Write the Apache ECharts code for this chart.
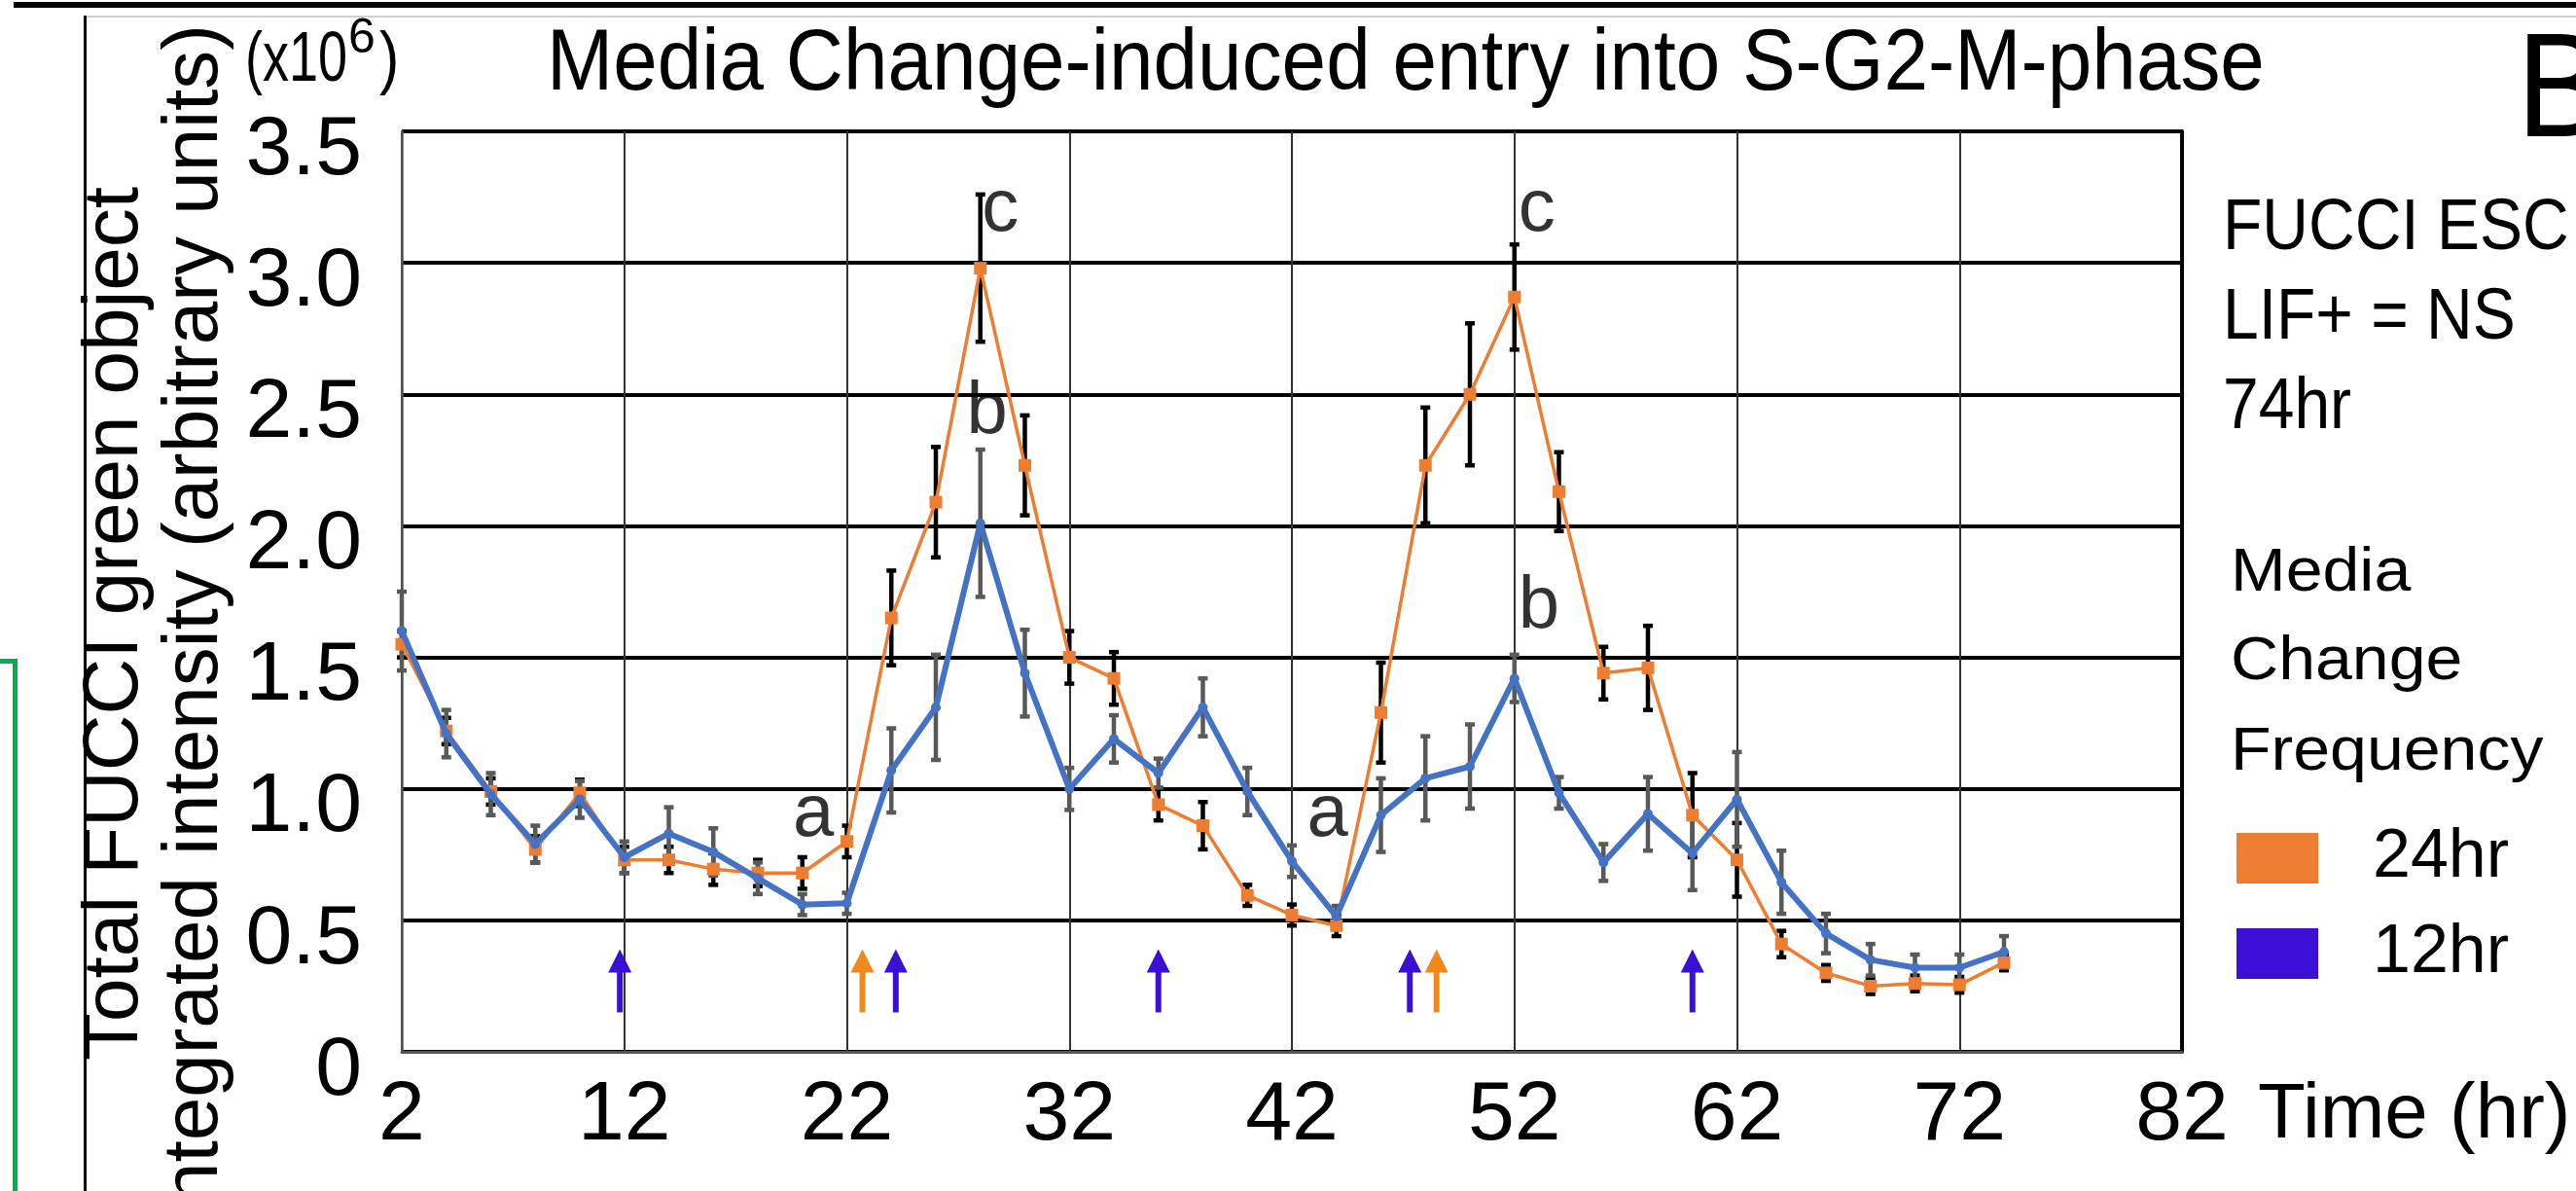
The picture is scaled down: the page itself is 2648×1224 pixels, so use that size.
<!DOCTYPE html>
<html>
<head>
<meta charset="utf-8">
<script src="https://cdn.jsdelivr.net/npm/echarts@6/dist/echarts.min.js"></script>
<style>
html,body{margin:0;padding:0;background:#fff;}
#chart{width:2648px;height:1224px;}
</style>
</head>
<body>
<div id="chart"></div>
<script>
// ---------------- data ----------------
const hours = [2,4,6,8,10,12,14,16,18,20,22,24,26,28,30,32,34,36,38,40,42,44,46,48,50,52,54,56,58,60,62,64,66,68,70,72,74];
const media24 = [1.55,1.22,0.99,0.77,0.985,0.73,0.73,0.695,0.68,0.68,0.80,1.65,2.09,2.98,2.23,1.50,1.42,0.94,0.86,0.595,0.52,0.48,1.29,2.23,2.50,2.87,2.13,1.44,1.46,0.90,0.73,0.41,0.30,0.25,0.26,0.255,0.34];
const media24Err = [0.05,0.05,0.05,0.05,0.05,0.05,0.05,0.06,0.05,0.06,0.06,0.18,0.21,0.28,0.19,0.10,0.10,0.06,0.09,0.04,0.04,0.04,0.19,0.22,0.27,0.20,0.15,0.10,0.16,0.16,0.14,0.05,0.03,0.03,0.03,0.03,0.03];
const media12 = [1.60,1.21,0.98,0.79,0.96,0.74,0.83,0.76,0.66,0.56,0.565,1.07,1.31,2.01,1.44,1.00,1.19,1.06,1.31,0.99,0.725,0.515,0.90,1.04,1.085,1.42,0.985,0.72,0.905,0.755,0.96,0.645,0.45,0.35,0.32,0.32,0.38];
const media12Err = [0.15,0.09,0.08,0.07,0.07,0.06,0.10,0.09,0.06,0.04,0.04,0.16,0.20,0.28,0.165,0.08,0.09,0.055,0.11,0.09,0.06,0.04,0.14,0.16,0.16,0.09,0.06,0.07,0.14,0.14,0.18,0.12,0.075,0.06,0.05,0.05,0.06];
// media change arrows (time positions) and their vertical extent
const arrows12 = [11.8,24.2,36,47.3,60];
const arrows24 = [22.7,48.5];
const arrowSpan = [0.15,0.39];
// significance letters
const letterText = ['a','c','b','a','c','b'];
const letterX = [20.5,28.9,28.3,43.6,53.0,53.1];
const letterY = [0.90,3.20,2.43,0.90,3.20,1.69];
// axis settings
const xMin = 2, xMax = 82, xStep = 10;
const yMin = 0, yMax = 3.5, yStep = 0.5;
const titleText = 'Media Change-induced entry into S-G2-M-phase';
const yName = 'Total FUCCI green object\nintegrated intensity (arbitrary units)';
const sideNotes = ['FUCCI ESC','LIF+ = NS','74hr'];
const legendTitle = ['Media','Change','Frequency'];
const legendNames = ['24hr','12hr'];

const F = '"Liberation Sans", Arial, sans-serif';
const C_OR = '#ed7d31', C_BL = '#4472c4', C_LEG_BL = '#3a10d6', C_ARR_OR = '#f08a1c';

function errRender(color){
  return function(params, api){
    const x = api.value(0), v = api.value(1), e = api.value(2);
    const t = api.coord([x, v + e]), b = api.coord([x, v - e]);
    const cap = 5;
    const st = {stroke: color, lineWidth: 4.5};
    return {type:'group', children:[
      {type:'line', shape:{x1:t[0], y1:t[1], x2:b[0], y2:b[1]}, style:st},
      {type:'line', shape:{x1:t[0]-cap, y1:t[1], x2:t[0]+cap, y2:t[1]}, style:st},
      {type:'line', shape:{x1:b[0]-cap, y1:b[1], x2:b[0]+cap, y2:b[1]}, style:st}
    ]};
  };
}
function arrowRender(color){
  return function(params, api){
    const x = api.value(0);
    const lo = api.coord([x, api.value(1)]), hi = api.coord([x, api.value(2)]);
    const hw = 12, hh = 24, sw = 3;
    return {type:'group', children:[
      {type:'rect', shape:{x: lo[0]-sw, y: hi[1]+hh-2, width: sw*2, height: lo[1]-hi[1]-hh+2}, style:{fill: color}},
      {type:'polygon', shape:{points:[[hi[0], hi[1]], [hi[0]-hw, hi[1]+hh], [hi[0]+hw, hi[1]+hh]]}, style:{fill: color}}
    ]};
  };
}
function txt(text, x, y, size, sx, align){
  return {type:'text', x:x, y:y, scaleX:sx, z:10,
    style:{text:text, fontFamily:F, fontSize:size, fill:'#000', align:align || 'left', verticalAlign:'middle'}};
}

const chart = echarts.init(document.getElementById('chart'), null, {renderer:'canvas'});
const option = {
  backgroundColor: '#fff',
  animation: false,
  grid: {left: 413, right: 405, top: 135, bottom: 143, outerBoundsMode: 'none', containLabel: false},
  legend: {
    orient: 'vertical', left: 2294, top: 842,
    itemWidth: 84, itemHeight: 52, itemGap: 28, icon: 'rect', selectedMode: false,
    textStyle: {fontFamily: F, fontSize: 70, color: '#000', lineHeight: 52, padding: [0,0,0,51]},
    data: [
      {name: legendNames[0], itemStyle: {color: C_OR}},
      {name: legendNames[1], itemStyle: {color: C_LEG_BL}}
    ]
  },
  xAxis: {
    type: 'value', min: xMin, max: xMax, interval: xStep,
    name: 'Time (hr)', nameLocation: 'end', nameGap: 78,
    nameTextStyle: {fontFamily: F, fontSize: 80, color: '#000', align: 'left', verticalAlign: 'top', padding: [26,0,0,0]},
    axisLine: {show: true, lineStyle: {color: '#555', width: 3}},
    axisTick: {show: false},
    axisLabel: {fontFamily: F, fontSize: 86, color: '#000', margin: 23},
    splitLine: {show: true, lineStyle: {color: '#333', width: 2}}
  },
  yAxis: [{
    type: 'value', min: yMin, max: yMax, interval: yStep,
    name: yName,
    nameLocation: 'middle', nameRotate: 90, nameGap: 130,
    nameTextStyle: {fontFamily: F, fontSize: 80, color: '#000', lineHeight: 82, padding: [0,66,0,0]},
    axisLine: {show: true, lineStyle: {color: '#555', width: 2.5}},
    axisTick: {show: false},
    axisLabel: {
      fontFamily: F, fontSize: 86, color: '#000', margin: 41, verticalAlign: 'top', lineHeight: 40,
      formatter: v => v === 0 ? '0' : v.toFixed(1)
    },
    splitLine: {show: true, lineStyle: {color: '#000', width: 4}}
  }, {
    type: 'value', min: yMin, max: yMax, interval: yStep, position: 'right',
    axisLine: {show: true, lineStyle: {color: '#000', width: 4}},
    axisTick: {show: false}, axisLabel: {show: false}, splitLine: {show: false}
  }],
  graphic: [
    {type:'rect', shape:{x:14, y:2, width:2634, height:6}, style:{fill:'#000'}},
    {type:'rect', shape:{x:88, y:16, width:2560, height:2}, style:{fill:'#d0d0d0'}},
    {type:'rect', shape:{x:86, y:16, width:3, height:1208}, style:{fill:'#000'}},
    {type:'rect', shape:{x:13, y:679, width:5, height:545}, style:{fill:'#00b050'}},
    {type:'rect', shape:{x:0, y:677, width:18, height:5}, style:{fill:'#00b050'}},
    txt(titleText, 562, 67, 89, 0.92),
    txt('(x10', 357, 63, 72, 0.75, 'right'),
    txt('6', 358, 40, 50, 1),
    txt(')', 390, 63, 72, 0.85),
    txt('B', 2587, 98, 152, 0.9),
    txt(sideNotes[0], 2285, 235, 75, 0.88),
    txt(sideNotes[1], 2285, 327, 75, 0.88),
    txt(sideNotes[2], 2285, 419, 75, 0.88),
    txt(legendTitle[0], 2293, 590, 63, 1.08),
    txt(legendTitle[1], 2293, 681, 63, 1.08),
    txt(legendTitle[2], 2293, 774, 63, 1.08)
  ],
  series: [
    {type:'custom', name:'24hr err', renderItem: errRender('#000'), encode:{x:0, y:1}, z:2, silent:true,
      data: hours.map((h,i) => [h, media24[i], media24Err[i]])},
    {type:'custom', name:'12hr err', renderItem: errRender('#595959'), encode:{x:0, y:1}, z:2, silent:true,
      data: hours.map((h,i) => [h, media12[i], media12Err[i]])},
    {type:'line', name:legendNames[0], z:3, data: hours.map((h,i) => [h, media24[i]]),
      symbol:'rect', symbolSize: 13, showAllSymbol: true,
      lineStyle:{color:C_OR, width:3.5}, itemStyle:{color:C_OR}},
    {type:'line', name:legendNames[1], z:4, data: hours.map((h,i) => [h, media12[i]]),
      symbol:'circle', symbolSize: 10, showAllSymbol: true,
      lineStyle:{color:C_BL, width:6}, itemStyle:{color:C_BL}},
    {type:'custom', name:'arrow12', renderItem: arrowRender(C_LEG_BL), encode:{x:0, y:1}, z:5, silent:true,
      data: arrows12.map(x => [x, arrowSpan[0], arrowSpan[1]])},
    {type:'custom', name:'arrow24', renderItem: arrowRender(C_ARR_OR), encode:{x:0, y:1}, z:5, silent:true,
      data: arrows24.map(x => [x, arrowSpan[0], arrowSpan[1]])},
    {type:'scatter', name:'letters', z:6, silent:true, symbolSize: 1, itemStyle:{color:'rgba(0,0,0,0)'},
      data: letterText.map((t,i) => ({name:t, value:[letterX[i], letterY[i]]})),
      label:{show:true, position:'inside', formatter:'{b}', fontFamily:F, fontSize:76, color:'#000'}}
  ]
};
chart.setOption(option);
</script>
</body>
</html>
